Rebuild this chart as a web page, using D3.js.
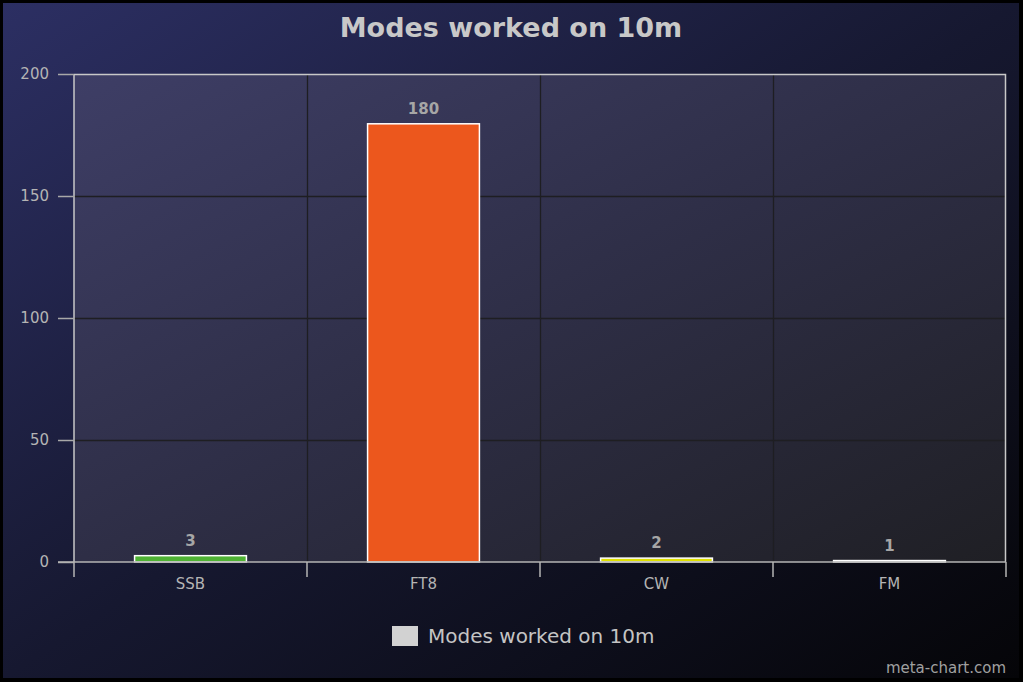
<!DOCTYPE html>
<html><head><meta charset="utf-8">
<script src="https://cdn.jsdelivr.net/npm/d3@7"></script>
<style>html,body{margin:0;padding:0;background:#000;}svg{display:block;}</style>
</head><body>
<svg id="chart" width="1023" height="682"></svg>
<script>
const categories = ["SSB", "FT8", "CW", "FM"];
const values = [3, 180, 2, 1];
const barColors = ["#4fb234", "#ec571d", "#dfe000", "#ececec"];
const yTicks = [0, 50, 100, 150, 200];
const title = "Modes worked on 10m";
const seriesName = "Modes worked on 10m";
const credit = "meta-chart.com";

const W = 1023, H = 682;
const svg = d3.select("#chart");
const defs = svg.append("defs");
const bg = defs.append("linearGradient").attr("id","bg").attr("x1","0").attr("y1","0").attr("x2","1").attr("y2","1");
bg.append("stop").attr("offset","0").attr("stop-color","#2c2f63");
bg.append("stop").attr("offset","0.5").attr("stop-color","#161830");
bg.append("stop").attr("offset","1").attr("stop-color","#050508");
const pg = defs.append("linearGradient").attr("id","pg").attr("x1","0").attr("y1","0").attr("x2","1").attr("y2","1");
pg.append("stop").attr("offset","0").attr("stop-color","#3e3e66");
pg.append("stop").attr("offset","0.5").attr("stop-color","#2e2e46");
pg.append("stop").attr("offset","1").attr("stop-color","#1f1f24");

svg.append("rect").attr("width",W).attr("height",H).attr("fill","#000");
svg.append("rect").attr("x",3).attr("y",3).attr("width",W-7).attr("height",H-7).attr("fill","url(#bg)");

const m = {left:74, right:1006, top:74, bottom:562};
const x = d3.scaleBand().domain(categories).range([m.left, m.right]).paddingInner(0.52).paddingOuter(0.26);
const xb = d3.scaleBand().domain(categories).range([m.left, m.right]);
const y = d3.scaleLinear().domain([0, 200]).range([m.bottom, m.top]);

svg.append("rect").attr("x",m.left).attr("y",m.top).attr("width",m.right-m.left).attr("height",m.bottom-m.top).attr("fill","url(#pg)");

// grid
const grid = svg.append("g");
grid.selectAll("line.h").data(yTicks.slice(1,-1)).join("line")
  .attr("x1",m.left).attr("x2",m.right).attr("y1",d=>y(d)+0.5).attr("y2",d=>y(d)+0.5)
  .attr("stroke","#1e1e22").attr("stroke-width",1.3);
grid.selectAll("line.v").data(categories.slice(1)).join("line")
  .attr("x1",d=>xb(d)+0.5).attr("x2",d=>xb(d)+0.5).attr("y1",m.top).attr("y2",m.bottom)
  .attr("stroke","#1e1e22").attr("stroke-width",1.3);

// plot border top/right
svg.append("path").attr("d",`M${m.left},${m.top+0.5}H${m.right-0.5}V${m.bottom}`)
  .attr("fill","none").attr("stroke","#c8c8c8").attr("stroke-width",1.5);

// bars
svg.selectAll("rect.bar").data(categories).join("rect").attr("class","bar")
  .attr("x",d=>x(d)).attr("width",x.bandwidth())
  .attr("y",(d,i)=>y(values[i])+1).attr("height",(d,i)=>y(0)-y(values[i])-1)
  .attr("fill",(d,i)=>barColors[i]).attr("stroke","#ffffff").attr("stroke-width",1.5);

// value labels
svg.selectAll("text.val").data(categories).join("text")
  .attr("x",d=>x(d)+x.bandwidth()/2).attr("y",(d,i)=>y(values[i])-9)
  .attr("text-anchor","middle").attr("font-family","DejaVu Sans").attr("font-weight","bold")
  .attr("font-size",15).attr("fill","#a6a6a6").text((d,i)=>values[i]);

// y axis
const yAxis = svg.append("g").attr("transform",`translate(${m.left},0)`)
  .call(d3.axisLeft(y).tickValues(yTicks).tickSize(16).tickPadding(9));
yAxis.select(".domain").attr("stroke","#c8c8c8").attr("stroke-width",1.5).attr("d",`M0,${m.top}V${m.bottom}`);
yAxis.selectAll(".tick line").attr("stroke","#a8a8a8").attr("stroke-width",1.5);
yAxis.selectAll(".tick text").attr("fill","#b4b4b4").attr("font-family","DejaVu Sans").attr("font-size",15);

// x axis
const xAxis = svg.append("g").attr("transform",`translate(0,${m.bottom})`)
  .call(d3.axisBottom(xb).tickSize(0).tickPadding(16));
xAxis.select(".domain").remove();
xAxis.append("line").attr("x1",58).attr("x2",m.right).attr("y1",0).attr("y2",0).attr("stroke","#b4b4b4").attr("stroke-width",1.5);
xAxis.selectAll(".tick text").attr("fill","#b4b4b4").attr("font-family","DejaVu Sans").attr("font-size",15);
const bounds = categories.map(c=>xb(c)).concat([m.right]);
xAxis.selectAll("line.bt").data(bounds).join("line").attr("class","bt")
  .attr("x1",d=>d).attr("x2",d=>d).attr("y1",0).attr("y2",15)
  .attr("stroke","#b4b4b4").attr("stroke-width",1.5);

// title
svg.append("text").attr("x",511).attr("y",37).attr("text-anchor","middle")
  .attr("font-family","DejaVu Sans").attr("font-weight","bold")
  .attr("font-size",27).attr("fill","#c8c8c8").text(title);

// legend
svg.append("rect").attr("x",392).attr("y",626).attr("width",26).attr("height",20).attr("fill","#d2d2d2");
svg.append("text").attr("x",428).attr("y",643).attr("font-family","DejaVu Sans")
  .attr("font-size",20).attr("fill","#c4c4c4").text(seriesName);

svg.append("text").attr("x",1006).attr("y",673).attr("text-anchor","end").attr("font-family","DejaVu Sans")
  .attr("font-size",15).attr("fill","#a0a0a0").text(credit);
</script>
</body></html>
